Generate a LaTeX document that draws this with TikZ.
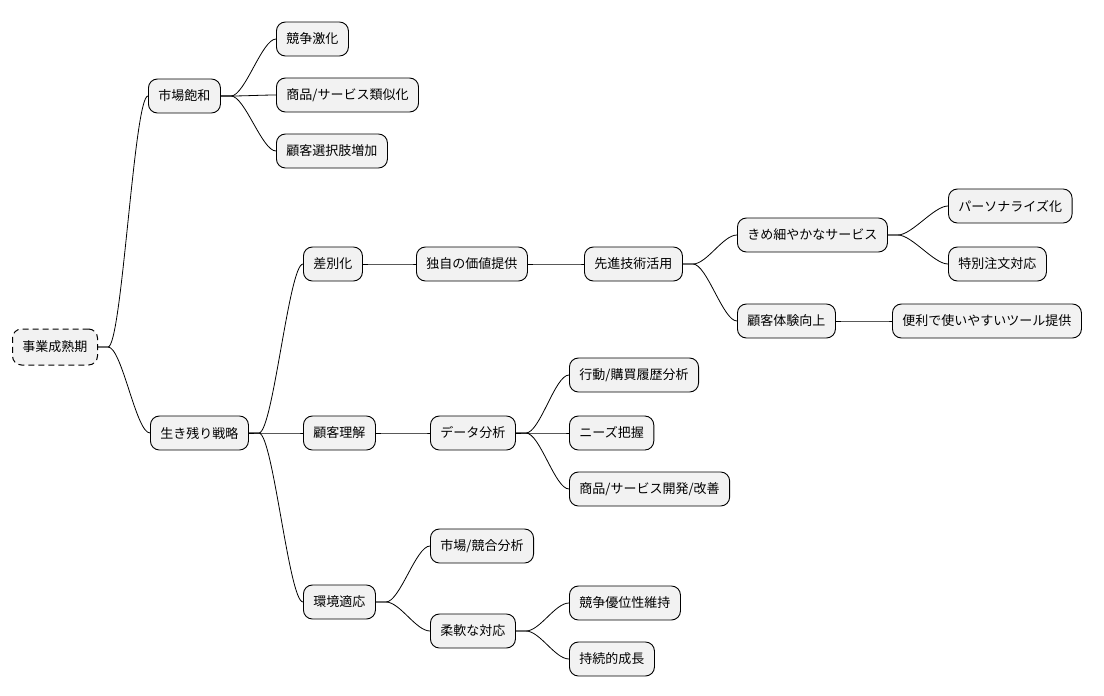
\documentclass[tikz,border=0pt]{standalone}
\usepackage{fontspec}
\setmainfont{Noto Sans CJK JP}

\tikzset{
	box/.style={draw, rounded corners=9pt, fill=gray!10, line width=0.9pt, minimum height=34pt, inner xsep=10pt, anchor=west, font=\fontsize{13}{15}\selectfont},
	link/.style={line width=0.8pt, to path={-- ++(10,0) .. controls +(14,0) and +(-14,0) .. (\tikztotarget)}}
}

\begin{document}
\begin{tikzpicture}[x=1pt, y=-1pt]
	\useasboundingbox (0,0) rectangle (1104,696);

	\node[box, dash pattern=on 6pt off 4pt, line width=1pt, minimum height=36pt] (root) at (12,347) {事業成熟期};

	\node[box] (sat) at (148,96) {市場飽和};
	\node[box] (sat1) at (276,39) {競争激化};
	\node[box] (sat2) at (276,95) {商品/サービス類似化};
	\node[box] (sat3) at (276,151) {顧客選択肢増加};

	\node[box] (surv) at (150,433) {生き残り戦略};
	\node[box] (diff) at (303,264) {差別化};
	\node[box] (uniq) at (416,264) {独自の価値提供};
	\node[box] (tech) at (584,264) {先進技術活用};
	\node[box] (fine) at (737,235) {きめ細やかなサービス};
	\node[box] (pers) at (948,206) {パーソナライズ化};
	\node[box] (spec) at (948,264) {特別注文対応};
	\node[box] (exp) at (737,321) {顧客体験向上};
	\node[box] (tool) at (892,321) {便利で使いやすいツール提供};

	\node[box] (cust) at (303,433) {顧客理解};
	\node[box] (data) at (430,433) {データ分析};
	\node[box] (hist) at (569,375) {行動/購買履歴分析};
	\node[box] (need) at (569,433) {ニーズ把握};
	\node[box] (dev) at (569,489) {商品/サービス開発/改善};

	\node[box] (env) at (303,602) {環境適応};
	\node[box] (comp) at (430,546) {市場/競合分析};
	\node[box] (flex) at (430,631) {柔軟な対応};
	\node[box] (adv) at (569,603) {競争優位性維持};
	\node[box] (grow) at (569,659) {持続的成長};

	% connectors
	\foreach \a/\b in {root/sat, root/surv, sat/sat1, sat/sat2, sat/sat3,
		surv/diff, surv/cust, surv/env, diff/uniq, uniq/tech, tech/fine, tech/exp,
		fine/pers, fine/spec, exp/tool, cust/data, data/hist, data/need, data/dev,
		env/comp, env/flex, flex/adv, flex/grow}
		\draw[link] (\a.east) to (\b.west);
\end{tikzpicture}
\end{document}
